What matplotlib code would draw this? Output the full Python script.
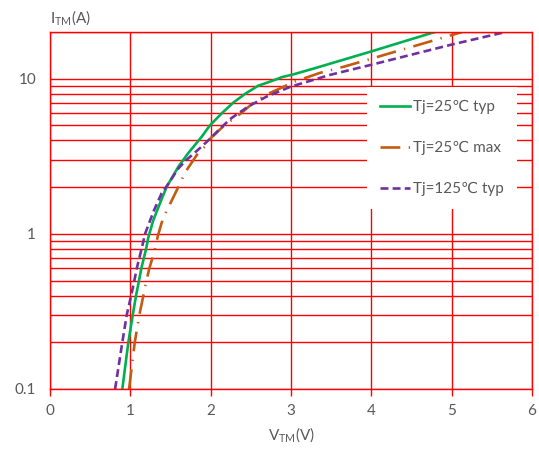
import matplotlib
matplotlib.use('Agg')
import numpy as np
import matplotlib.pyplot as plt
from matplotlib.ticker import LogLocator, FixedLocator, FixedFormatter, NullFormatter

plt.rcParams['font.family'] = ['Lato', 'DejaVu Sans']
plt.rcParams['mathtext.default'] = 'regular'

# on-state characteristics, current (A) vs voltage (V)
i_25typ = [0.1, 0.2, 0.3, 0.4, 0.5, 0.6, 0.8, 0.95, 1.23, 1.58, 2, 2.72, 3.31, 4.24, 5, 6, 7,
           8, 9, 9.75, 10.25, 10.6, 11.7, 15, 20]
v_25typ = [0.90, 0.975, 1.03, 1.071, 1.108, 1.137, 1.196, 1.224, 1.287, 1.37, 1.45, 1.60, 1.72,
           1.89, 1.99, 2.14, 2.28, 2.43, 2.59, 2.78, 2.89, 3.01, 3.30, 4.0, 4.79]

i_25max = [0.1, 0.2, 0.3, 0.4, 0.5, 0.6, 0.8, 0.96, 1.18, 1.4, 1.83, 2.12, 2.48, 3.24, 3.66,
           4.14, 5, 6, 7.14, 8.1, 8.6, 9.6, 10.9, 12.0, 13.6, 19.1, 20]
v_25max = [0.984, 1.055, 1.112, 1.162, 1.2, 1.237, 1.308, 1.34, 1.39, 1.45, 1.56, 1.62, 1.68,
           1.83, 1.93, 2.0, 2.17, 2.38, 2.55, 2.74, 2.85, 3.05, 3.36, 3.67, 4.03, 5.0, 5.13]

i_125typ = [0.1, 0.2, 0.3, 0.4, 0.5, 0.6, 0.8, 1.0, 1.4, 1.83, 2.02, 2.65, 3.0, 3.66, 4.24,
            4.9, 5.58, 6.63, 7.69, 8.9, 10.6, 12.3, 16.6, 20]
v_125typ = [0.81, 0.90, 0.955, 1.01, 1.05, 1.08, 1.14, 1.183, 1.29, 1.39, 1.45, 1.60, 1.70,
            1.89, 2.02, 2.14, 2.26, 2.47, 2.70, 3.0, 3.49, 4.0, 5.0, 5.67]

labels = ['Tj=25\u2103 typ', 'Tj=25\u2103 max', 'Tj=125\u2103 typ']
colors = ['#00B050', '#C55A11', '#7030A0']
grey = '#595959'

fig = plt.figure(figsize=(5.39, 4.51), dpi=100)
ax = fig.add_axes([0.0928, 0.1375, 0.8942, 0.7915])

ax.plot(v_25typ, i_25typ, color=colors[0], lw=1.9, label=labels[0])
ax.plot(v_25max, i_25max, color=colors[1], lw=1.9, label=labels[1],
        dashes=(7.5, 3.2, 0.5, 3.2))
ax.plot(v_125typ, i_125typ, color=colors[2], lw=1.9, label=labels[2],
        dashes=(3.0, 1.6))

ax.set_yscale('log')
ax.set_xlim(0, 6)
ax.set_ylim(0.1, 20)

ax.xaxis.set_major_locator(FixedLocator([0, 1, 2, 3, 4, 5, 6]))
ax.yaxis.set_major_locator(FixedLocator([0.1, 1, 10]))
ax.yaxis.set_major_formatter(FixedFormatter(['0.1', '1', '10']))
ax.yaxis.set_minor_locator(LogLocator(base=10, subs=np.arange(2, 10)))
ax.yaxis.set_minor_formatter(NullFormatter())

ax.grid(True, which='both', axis='y', color='#FF0000', lw=1.0)
ax.grid(True, which='major', axis='x', color='#FF0000', lw=1.0)
ax.set_axisbelow(True)

for s in ax.spines.values():
    s.set_color('#FF0000')
    s.set_linewidth(1.0)

ax.tick_params(axis='x', colors='#FF0000', labelcolor=grey, length=5,
               width=1.0, labelsize=11, pad=6)
ax.tick_params(axis='y', which='both', length=0, labelcolor=grey,
               labelsize=11, pad=10)

ax.set_xlabel('V$_{TM}$(V)', color=grey, fontsize=11, labelpad=5)
fig.text(0.093, 0.94, 'I$_{TM}$(A)', color=grey, fontsize=11, ha='left', va='bottom')

leg = ax.legend(loc='upper left', bbox_to_anchor=(0.657, 0.845), frameon=True,
                fancybox=False, edgecolor='none', facecolor='white', framealpha=1,
                fontsize=11, handlelength=2.0, labelspacing=1.75, borderaxespad=0,
                borderpad=0.85, handletextpad=0.2)
for t in leg.get_texts():
    t.set_color(grey)

fig.savefig('out.png', dpi=100)
